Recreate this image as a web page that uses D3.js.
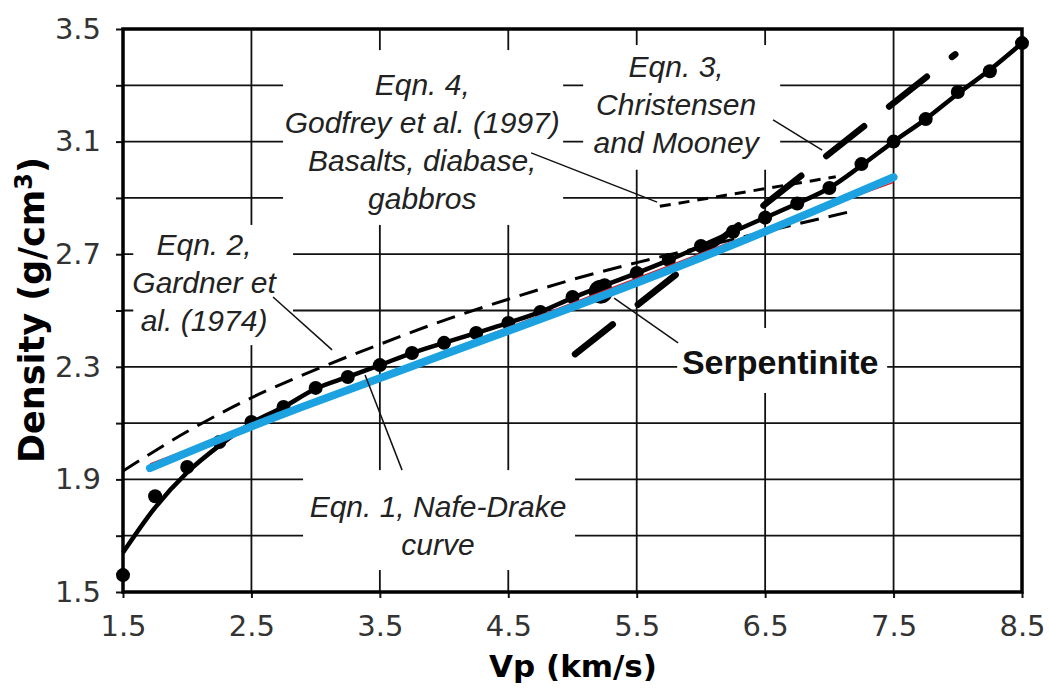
<!DOCTYPE html>
<html>
<head>
<meta charset="utf-8">
<script src="https://cdn.jsdelivr.net/npm/d3@7"></script>
<style>
  body { margin: 0; background: #fff; }
  .tick text { font-family: "DejaVu Sans", Verdana, sans-serif; font-size: 29px; fill: #333; }
  .note { font-family: "Liberation Sans", Arial, sans-serif; font-style: italic; font-size: 30px; fill: #222; }
</style>
</head>
<body>
<div id="chart"></div>
<script>
// Axis ticks and grid
var xTicks = [1.5, 2.5, 3.5, 4.5, 5.5, 6.5, 7.5, 8.5];
var xGrid = [2.5, 3.5, 4.5, 5.5, 6.5, 7.5];
var yTicks = [1.5, 1.7, 1.9, 2.1, 2.3, 2.5, 2.7, 2.9, 3.1, 3.3, 3.5];
var yTickLabels = [1.5, 1.9, 2.3, 2.7, 3.1, 3.5];
var yGrid = [1.7, 1.9, 2.1, 2.3, 2.5, 2.7, 2.9, 3.1, 3.3];

// Eqn. 1 Nafe-Drake: data points and curve  [Vp, density]
var nafeDots = [
  [1.5, 1.56], [1.75, 1.84], [2.0, 1.944], [2.25, 2.033], [2.5, 2.104], [2.75, 2.157],
  [3.0, 2.225], [3.25, 2.264], [3.5, 2.306], [3.75, 2.349], [4.0, 2.385], [4.25, 2.42],
  [4.5, 2.456], [4.75, 2.495], [5.0, 2.548], [5.25, 2.59], [5.5, 2.633], [5.75, 2.679],
  [6.0, 2.729], [6.25, 2.78], [6.5, 2.83], [6.75, 2.88], [7.0, 2.935], [7.25, 3.02],
  [7.5, 3.10], [7.75, 3.18], [8.0, 3.276], [8.25, 3.35], [8.5, 3.45]
];
var nafeCurve = [
  [1.5, 1.64], [1.75, 1.80], [2.0, 1.925], [2.25, 2.02], [2.5, 2.10], [2.75, 2.157],
  [3.0, 2.222], [3.25, 2.264], [3.5, 2.306], [3.75, 2.349], [4.0, 2.385], [4.25, 2.42],
  [4.5, 2.456], [4.75, 2.495], [5.0, 2.545], [5.25, 2.59], [5.5, 2.633], [5.75, 2.679],
  [6.0, 2.729], [6.25, 2.78], [6.5, 2.83], [6.75, 2.88], [7.0, 2.935], [7.25, 3.015],
  [7.5, 3.10], [7.75, 3.18], [8.0, 3.27], [8.25, 3.355], [8.5, 3.45]
];
// Eqn. 2 Gardner et al. (1974)
var gardner = [
  [1.5, 1.93], [2.0, 2.07], [2.5, 2.19], [3.0, 2.29], [3.5, 2.38], [4.0, 2.465],
  [4.5, 2.54], [5.0, 2.61], [5.5, 2.67], [6.0, 2.725], [6.5, 2.78], [7.15, 2.85]
];
// Eqn. 3 Christensen and Mooney
var christensen = [[5.02, 2.345], [7.98, 3.41]];
// Eqn. 4 Godfrey et al. (1997)
var godfrey = [[5.68, 2.87], [7.05, 2.975]];
// Serpentinite
var serpentinite = [[5.22, 2.567]];
// Fitted lines (blue, red)
var blueFit = [[1.71, 1.94], [2.88, 2.155], [4.83, 2.483], [6.3, 2.743], [7.5, 2.974]];
var redFit = [[1.71, 1.955], [4.83, 2.497], [6.3, 2.755], [7.5, 2.955]];

// Labels and leader lines, in data units
var notes = [
  {lines: ["Eqn. 4,", "Godfrey et al. (1997)", "Basalts, diabase,", "gabbros"], x: 3.83, y: 3.266},
  {lines: ["Eqn. 3,", "Christensen", "and Mooney"], x: 5.807, y: 3.329},
  {lines: ["Eqn. 2,", "Gardner et", "al. (1974)"], x: 2.131, y: 2.697},
  {lines: ["Eqn. 1, Nafe-Drake", "curve"], x: 3.953, y: 1.766}
];
var leaders = [
  [[4.678, 3.06], [5.659, 2.885]],
  [[6.562, 3.177], [6.944, 3.07]],
  [[2.668, 2.548], [3.128, 2.36]],
  [[3.385, 2.271], [3.673, 1.933]],
  [[5.324, 2.544], [5.822, 2.385]]
];
// white patches behind the labels  [x0, y0, x1, y1]
var masks = [
  [2.746, 3.425, 4.927, 2.804],
  [5.083, 3.443, 6.617, 3.0],
  [1.58, 2.804, 2.824, 2.377],
  [2.902, 1.933, 5.02, 1.578],
  [5.815, 2.438, 7.45, 2.207]
];

// Set SVG container dimensions
var svgWidth = 1049;
var svgHeight = 688;
var margin = {top: 29, right: 27, bottom: 96, left: 123};
var width = svgWidth - margin.left - margin.right;
var height = svgHeight - margin.top - margin.bottom;

var svg = d3.select("#chart")
  .append("svg")
  .attr("width", svgWidth)
  .attr("height", svgHeight)
  .style("background", "#fff");

var chartGroup = svg.append("g")
  .attr("transform", `translate(${margin.left}, ${margin.top})`);

// Scales
var x = d3.scaleLinear().domain([1.5, 8.5]).range([0, width]);
var y = d3.scaleLinear().domain([1.5, 3.5]).range([height, 0]);

// Grid
chartGroup.selectAll(".vgrid")
  .data(xGrid)
  .enter()
  .append("line")
  .attr("x1", d => x(d)).attr("x2", d => x(d))
  .attr("y1", 0).attr("y2", height)
  .attr("stroke", "#111").attr("stroke-width", 1.8);

chartGroup.selectAll(".hgrid")
  .data(yGrid)
  .enter()
  .append("line")
  .attr("x1", 0).attr("x2", width)
  .attr("y1", d => y(d)).attr("y2", d => y(d))
  .attr("stroke", "#111").attr("stroke-width", 1.8);

// Label backgrounds
chartGroup.selectAll(".mask")
  .data(masks)
  .enter()
  .append("rect")
  .attr("x", d => x(d[0]))
  .attr("y", d => y(d[1]))
  .attr("width", d => x(d[2]) - x(d[0]))
  .attr("height", d => y(d[3]) - y(d[1]))
  .attr("fill", "#fff");

// Axes
var bottomAxis = d3.axisBottom(x)
  .tickValues(xTicks)
  .tickSize(6)
  .tickPadding(17)
  .tickFormat(d3.format(".1f"));
var leftAxis = d3.axisLeft(y)
  .tickValues(yTicks)
  .tickSize(7)
  .tickPadding(15)
  .tickFormat(d => yTickLabels.some(v => Math.abs(v - d) < 1e-6) ? d3.format(".1f")(d) : "");

var xAxisG = chartGroup.append("g")
  .attr("transform", `translate(0, ${height})`)
  .call(bottomAxis);
var yAxisG = chartGroup.append("g")
  .call(leftAxis);
[xAxisG, yAxisG].forEach(function(g) {
  g.select(".domain").remove();
  g.selectAll(".tick line").attr("stroke", "#111").attr("stroke-width", 2);
});

// Frame
chartGroup.append("rect")
  .attr("width", width)
  .attr("height", height)
  .attr("fill", "none")
  .attr("stroke", "#000")
  .attr("stroke-width", 3.5);

var line = d3.line().x(d => x(d[0])).y(d => y(d[1]));

// Eqn. 2 Gardner
chartGroup.append("path")
  .datum(gardner)
  .attr("d", line.curve(d3.curveMonotoneX))
  .attr("fill", "none").attr("stroke", "#000")
  .attr("stroke-width", 3).attr("stroke-dasharray", "19,10");

// Eqn. 4 Godfrey
chartGroup.append("path")
  .datum(godfrey)
  .attr("d", line.curve(d3.curveLinear))
  .attr("fill", "none").attr("stroke", "#000")
  .attr("stroke-width", 3).attr("stroke-dasharray", "11,8");

// Eqn. 3 Christensen and Mooney
chartGroup.append("path")
  .datum(christensen)
  .attr("d", line.curve(d3.curveLinear))
  .attr("fill", "none").attr("stroke", "#000")
  .attr("stroke-width", 6.5).attr("stroke-linecap", "round")
  .attr("stroke-dasharray", "48,32");

// Eqn. 1 Nafe-Drake curve and points
chartGroup.append("path")
  .datum(nafeCurve)
  .attr("d", line.curve(d3.curveMonotoneX))
  .attr("fill", "none").attr("stroke", "#000")
  .attr("stroke-width", 4.5);

chartGroup.selectAll(".dot")
  .data(nafeDots)
  .enter()
  .append("circle")
  .attr("cx", d => x(d[0]))
  .attr("cy", d => y(d[1]))
  .attr("r", 7)
  .attr("fill", "#000");

chartGroup.selectAll(".serp")
  .data(serpentinite)
  .enter()
  .append("circle")
  .attr("cx", d => x(d[0]))
  .attr("cy", d => y(d[1]))
  .attr("r", 12)
  .attr("fill", "#000");

// Fitted lines
chartGroup.append("path")
  .datum(redFit)
  .attr("d", line.curve(d3.curveNatural))
  .attr("fill", "none").attr("stroke", "#e8141c")
  .attr("stroke-width", 1.5);

chartGroup.append("path")
  .datum(blueFit)
  .attr("d", line.curve(d3.curveNatural))
  .attr("fill", "none").attr("stroke", "#1ca2e0")
  .attr("stroke-width", 8).attr("stroke-linecap", "round");

// Leader lines
chartGroup.selectAll(".leader")
  .data(leaders)
  .enter()
  .append("line")
  .attr("x1", d => x(d[0][0])).attr("y1", d => y(d[0][1]))
  .attr("x2", d => x(d[1][0])).attr("y2", d => y(d[1][1]))
  .attr("stroke", "#111").attr("stroke-width", 1.5);

// Italic labels
notes.forEach(function(n) {
  var t = chartGroup.append("text")
    .attr("class", "note")
    .attr("text-anchor", "middle");
  n.lines.forEach(function(s, i) {
    t.append("tspan")
      .attr("x", x(n.x))
      .attr("y", y(n.y) + i * 38)
      .text(s);
  });
});

chartGroup.append("text")
  .attr("x", x(6.617))
  .attr("y", y(2.274))
  .attr("text-anchor", "middle")
  .style("font-family", "Liberation Sans, Arial, sans-serif")
  .style("font-weight", "bold")
  .style("font-size", "34px")
  .attr("fill", "#111")
  .text("Serpentinite");

// Axis titles
svg.append("text")
  .attr("x", 573)
  .attr("y", 677)
  .attr("text-anchor", "middle")
  .style("font-family", "DejaVu Sans, Verdana, sans-serif")
  .style("font-weight", "bold")
  .style("font-size", "31px")
  .text("Vp (km/s)");

var yTitle = svg.append("text")
  .attr("transform", "translate(44, 310) rotate(-90)")
  .attr("text-anchor", "middle")
  .style("font-family", "DejaVu Sans, Verdana, sans-serif")
  .style("font-weight", "bold")
  .style("font-size", "35px");
yTitle.append("tspan").text("Density (g/cm");
yTitle.append("tspan").attr("dy", -12).style("font-size", "24px").text("3");
yTitle.append("tspan").attr("dy", 12).text(")");
</script>
</body>
</html>
